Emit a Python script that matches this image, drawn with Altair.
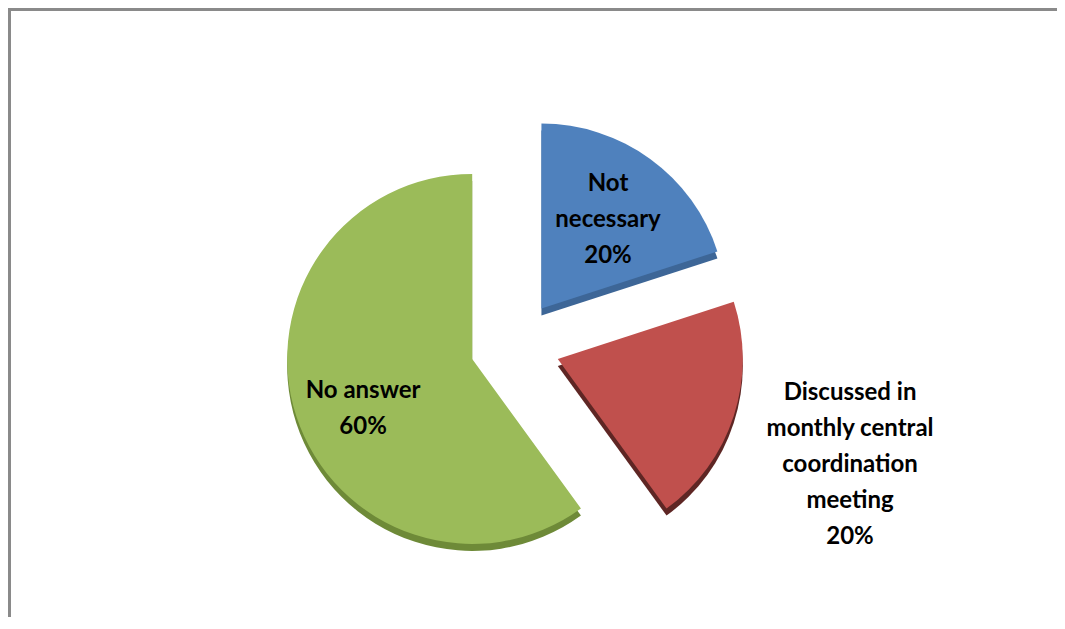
import math
import altair as alt
import pandas as pd

# ---- data ----
categories = ["Not necessary", "Discussed in monthly central coordination meeting", "No answer"]
values = [20, 20, 60]
labels = ["Not\nnecessary\n20%",
          "Discussed in\nmonthly central\ncoordination\nmeeting\n20%",
          "No answer\n60%"]
order = [0, 1, 2]

face_colors = ["#4F81BD", "#C0504D", "#9BBB59"]
side_colors = ["#3D6697", "#5E2624", "#6E8A38"]

df = pd.DataFrame({"category": categories, "value": values, "label": labels, "order": order})

# ---- layout ----
W, H = 1045, 605
PAD = 4
CX, CY = 503, 333      # pie centre inside the plot area
R = 185                # pie radius
EXPLODE = 45           # explosion distance
DEPTH = 7              # 3D thickness
LINE_H = 36

xs = alt.Scale(domain=[-CX, W - CX], range=[0, W], zero=False, nice=False)
ys = alt.Scale(domain=[-CY, H - CY], range=[0, H], zero=False, nice=False)
ts = alt.Scale(domain=[0, 1], range=[0, 2 * math.pi], zero=False, nice=False)

base = (
    alt.Chart(df)
    .transform_window(cum="sum(value)", sort=[alt.SortField("order")], frame=[None, 0])
    .transform_joinaggregate(total="sum(value)")
    .transform_calculate(start="(datum.cum - datum.value) / datum.total")
    .transform_calculate(end="datum.cum / datum.total")
    .transform_calculate(mid="2 * PI * (datum.cum - datum.value / 2) / datum.total")
    .transform_calculate(ex=f"{EXPLODE} * sin(datum.mid)")
    .transform_calculate(ey=f"-{EXPLODE} * cos(datum.mid)")
    # label placement: distance from the slice apex and a small angular tweak
    .transform_calculate(lr="datum.order == 1 ? 311 : (datum.order == 2 ? 120 : 111)")
    .transform_calculate(la="datum.mid + (datum.order == 1 ? 0.035 : (datum.order == 2 ? -0.115 : 0.015))")
    .transform_calculate(nl="length(split(datum.label, '\\n'))")
    .transform_calculate(lx="datum.ex + datum.lr * sin(datum.la)")
    .transform_calculate(ly=f"datum.ey - datum.lr * cos(datum.la) - (datum.nl - 1) * {LINE_H / 2}")
)

arc_enc = dict(
    x=alt.X("ex:Q", scale=xs, axis=None),
    y=alt.Y("ey:Q", scale=ys, axis=None),
    theta=alt.Theta("start:Q", scale=ts, stack=None),
    theta2=alt.Theta2("end:Q"),
)

side = base.mark_arc(outerRadius=R, yOffset=DEPTH).encode(
    color=alt.Color("category:N", scale=alt.Scale(domain=categories, range=side_colors), legend=None),
    **arc_enc,
)
face = base.mark_arc(outerRadius=R).encode(
    color=alt.Color("category:N", scale=alt.Scale(domain=categories, range=face_colors), legend=None),
    **arc_enc,
)
text = base.mark_text(
    font="Lato", fontWeight="bold", fontSize=24, lineBreak="\n", lineHeight=LINE_H,
    align="center", baseline="middle", color="#000000",
).encode(
    x=alt.X("lx:Q", scale=xs, axis=None),
    y=alt.Y("ly:Q", scale=ys, axis=None),
    text="label:N",
)

frame_df = pd.DataFrame({"k": [0]})
top_rule = alt.Chart(frame_df).mark_rule(color="#8A8A8A", strokeWidth=3).encode(
    x=alt.value(-2.5), x2=alt.value(W), y=alt.value(-2.5)
)
left_rule = alt.Chart(frame_df).mark_rule(color="#8A8A8A", strokeWidth=3).encode(
    x=alt.value(-2.5), y=alt.value(-4), y2=alt.value(H)
)

chart = (
    alt.layer(side, face, text, top_rule, left_rule)
    .resolve_scale(color="independent")
    .properties(
        width=W, height=H,
        autosize=alt.AutoSizeParams(type="none"),
        padding={"left": PAD, "top": PAD, "right": 0, "bottom": 0},
        background="white",
    )
    .configure_view(stroke=None)
)

chart.save("out.html", embed_options={"renderer": "svg", "actions": False})
